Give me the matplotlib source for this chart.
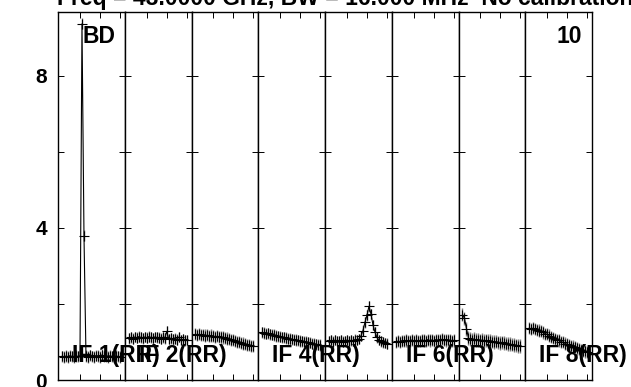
import matplotlib.pyplot as plt

# channel numbers inside each IF panel
channels = list(range(1, 31))

# amplitude per channel for each IF
if1 = [0.62, 0.60, 0.63, 0.61, 0.64, 0.62, 0.60, 0.63, 0.62, 0.64, 9.37, 3.80, 0.63, 0.61, 0.65,
       0.62, 0.60, 0.64, 0.63, 0.61, 0.66, 0.62, 0.63, 0.60, 0.64, 0.62, 0.61, 0.63, 0.62, 0.61]
if2 = [1.10, 1.12, 1.09, 1.13, 1.11, 1.14, 1.12, 1.10, 1.13, 1.11, 1.14, 1.12, 1.10, 1.13, 1.12,
       1.11, 1.09, 1.12, 1.10, 1.28, 1.08, 1.10, 1.07, 1.09, 1.06, 1.13, 1.05, 1.07, 1.04, 1.05]
if3 = [1.20, 1.19, 1.20, 1.18, 1.19, 1.17, 1.18, 1.16, 1.17, 1.15, 1.14, 1.15, 1.13, 1.12, 1.12,
       1.10, 1.09, 1.08, 1.06, 1.05, 1.03, 1.01, 0.99, 0.98, 0.96, 0.94, 0.93, 0.91, 0.90, 0.90]
if4 = [1.25, 1.24, 1.22, 1.23, 1.20, 1.19, 1.18, 1.16, 1.15, 1.14, 1.12, 1.12, 1.10, 1.09, 1.08,
       1.07, 1.06, 1.05, 1.04, 1.03, 1.02, 1.01, 1.00, 0.99, 0.98, 0.96, 0.95, 0.94, 0.93, 0.92]
if5 = [1.02, 1.04, 1.01, 1.05, 1.03, 1.02, 1.04, 1.01, 1.03, 1.05, 1.02, 1.04, 1.03, 1.06, 1.05,
       1.08, 1.16, 1.30, 1.52, 1.70, 1.94, 1.74, 1.45, 1.26, 1.12, 1.05, 1.02, 0.99, 0.97, 0.96]
if6 = [1.00, 1.02, 1.01, 1.03, 1.02, 1.04, 1.03, 1.02, 1.05, 1.03, 1.04, 1.02, 1.03, 1.05, 1.04,
       1.03, 1.06, 1.04, 1.05, 1.03, 1.06, 1.04, 1.05, 1.07, 1.05, 1.04, 1.06, 1.05, 1.03, 1.04]
if7 = [1.72, 1.62, 1.35, 1.10, 1.07, 1.06, 1.07, 1.05, 1.06, 1.04, 1.05, 1.03, 1.04, 1.02, 1.03,
       1.01, 1.00, 1.01, 0.99, 0.98, 0.99, 0.97, 0.96, 0.95, 0.94, 0.93, 0.92, 0.91, 0.90, 0.89]
if8 = [1.36, 1.35, 1.36, 1.34, 1.32, 1.30, 1.28, 1.25, 1.22, 1.20, 1.17, 1.14, 1.11, 1.08, 1.06,
       1.04, 1.01, 0.99, 0.96, 0.94, 0.92, 0.90, 0.88, 0.86, 0.83, 0.81, 0.79, 0.77, 0.75, 0.73]
amps = [if1, if2, if3, if4, if5, if6, if7, if8]

# error bar half-length for each IF
errs = [0.15, 0.14, 0.16, 0.15, 0.14, 0.16, 0.18, 0.16]

# IFs whose label is visible
labelled_ifs = [1, 2, 4, 6, 8]
title = 'Freq = 43.0000 GHz, BW = 16.000 MHz  No calibration'

plt.rcParams['font.family'] = 'Liberation Sans'
plt.rcParams['font.weight'] = 'bold'

fig, axes = plt.subplots(1, 8, sharey=True, figsize=(6.31, 3.87), dpi=100,
                         gridspec_kw=dict(wspace=0))
fig.subplots_adjust(left=58/631, right=592/631, bottom=7/387, top=375/387)

for i, ax in enumerate(axes):
    ax.errorbar(channels, amps[i], yerr=errs[i], fmt='none', ecolor='#7a7a7a', elinewidth=1.0)
    ax.plot(channels, amps[i], color='black', lw=0.8, marker='+', ms=7.5, mew=0.8)
    ax.set_xlim(-1, 32.4)
    ax.set_ylim(0, 9.68)
    ax.set_xticks([10, 20, 30])
    ax.set_xticklabels([])
    ax.set_yticks([0, 2, 4, 6, 8])
    ax.tick_params(axis='x', direction='in', top=True, bottom=True, length=4.5, width=0.7)
    ax.tick_params(axis='y', direction='in', left=True, right=True, length=4.5, width=0.7,
                   labelsize=15, pad=8)
    for s in ax.spines.values():
        s.set_linewidth(1.0)

axes[0].set_yticklabels(['0', '', '4', '', '8'], fontweight='bold')

# IF labels go on the figure so later panels do not hide them
fig.canvas.draw()
for n in labelled_ifs:
    ax = axes[n - 1]
    x0 = ax.get_position().x0 + 14/631
    fig.text(x0, 1 - 362/387, 'IF %d(RR)' % n, fontsize=16.5, fontweight='bold',
             va='baseline', ha='left', zorder=10)

fig.text(82/631, 1 - 43/387, 'BD', fontsize=16.5, fontweight='bold', va='baseline')
fig.text(556/631, 1 - 43/387, '10', fontsize=16.5, fontweight='bold', va='baseline')
fig.text(57/631, 1 - 5/387, title, fontsize=16.5, fontweight='bold', va='baseline')

fig.savefig('out.png', dpi=100)
